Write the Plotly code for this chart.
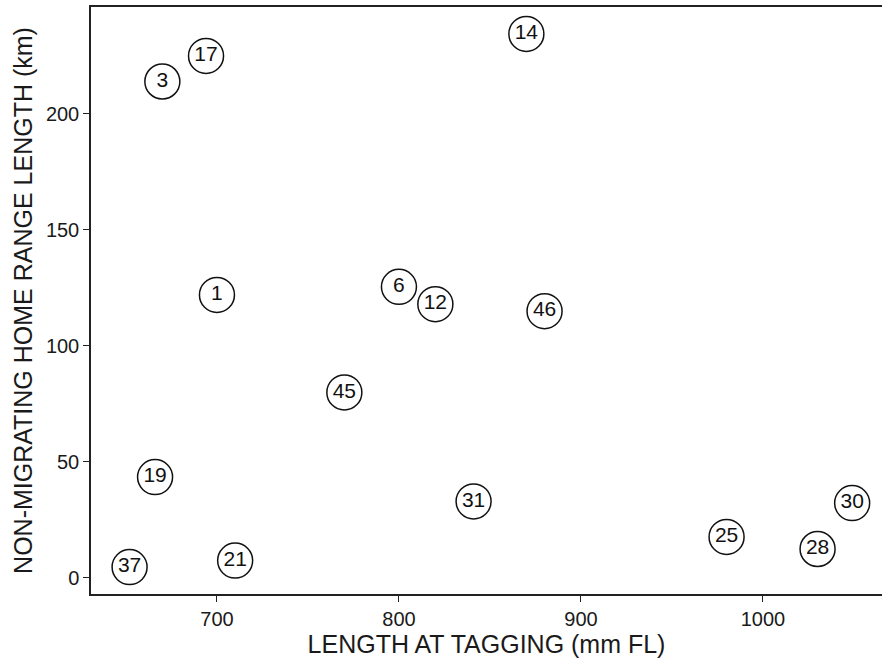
import plotly.graph_objects as go

# Fish ID, length at tagging (mm FL) and non-migrating home range length (km)
fish_ids = ["14", "17", "3", "1", "6", "12", "46", "45", "19", "31", "37", "21", "25", "28", "30"]
length_at_tagging = [870, 694, 670, 700, 800, 820, 880, 770, 666, 841, 652, 710, 980, 1030, 1049]
home_range_km = [234.5, 225, 214, 122, 125.5, 118, 115, 80, 43.5, 33, 4.7, 7.5, 17.7, 12.5, 32.3]

FONT = "Liberation Sans, Arial, Helvetica, sans-serif"

fig = go.Figure(
    go.Scatter(
        x=length_at_tagging,
        y=home_range_km,
        mode="markers+text",
        text=fish_ids,
        textposition="middle center",
        textfont=dict(family=FONT, size=21, color="#111111"),
        marker=dict(size=35, color="white", line=dict(color="#111111", width=1.5)),
        cliponaxis=False,
        hoverinfo="x+y+text",
    )
)

axis_font = dict(family=FONT, size=20, color="#1a1a1a")
title_font = dict(family=FONT, size=25, color="#1a1a1a")

fig.update_layout(
    width=882,
    height=659,
    margin=dict(l=91, r=0, t=7, b=65),
    paper_bgcolor="white",
    plot_bgcolor="white",
    showlegend=False,
    xaxis=dict(
        range=[630.8, 1065.4],
        tickvals=[700, 800, 900, 1000],
        showgrid=False,
        zeroline=False,
        showline=True,
        linecolor="#222222",
        linewidth=1.5,
        mirror=True,
        ticks="outside",
        ticklen=6,
        tickcolor="#222222",
        tickfont=axis_font,
        title=dict(text="LENGTH AT TAGGING (mm FL)", font=title_font, standoff=1),
    ),
    yaxis=dict(
        range=[-6.9, 246.1],
        tickvals=[0, 50, 100, 150, 200],
        showgrid=False,
        zeroline=False,
        showline=True,
        linecolor="#222222",
        linewidth=1.5,
        ticks="outside",
        ticklen=6,
        tickcolor="#222222",
        tickfont=axis_font,
        title=dict(text="NON-MIGRATING HOME RANGE LENGTH (km)", font=title_font, standoff=6),
    ),
)

fig.write_html("out.html")
